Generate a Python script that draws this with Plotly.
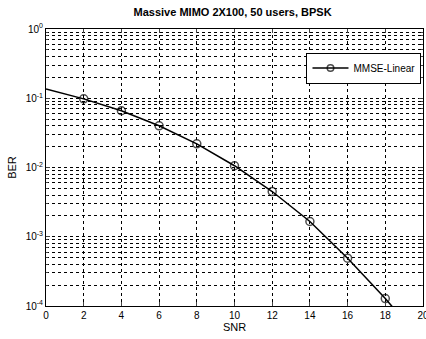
import plotly.graph_objects as go

snr = [0, 2, 4, 6, 8, 10, 12, 14, 16, 18, 20]
ber = [0.136, 0.098, 0.066, 0.040, 0.022, 0.0106, 0.0045, 0.00166, 0.00049, 0.000128, 0.00003]
marker_sizes = [0, 8, 8, 8, 8, 8, 8, 8, 8, 8, 0]
x_ticks = [0, 2, 4, 6, 8, 10, 12, 14, 16, 18, 20]
y_tickvals = [1e-4, 1e-3, 1e-2, 1e-1, 1]
y_ticktext = ["10<sup>-4</sup>", "10<sup>-3</sup>", "10<sup>-2</sup>", "10<sup>-1</sup>", "10<sup>0</sup>"]

FONT = "Liberation Sans, Arial, sans-serif"
W, H = 426, 339

fig = go.Figure()
fig.add_trace(go.Scatter(
    x=snr, y=ber, mode="lines+markers", name="MMSE-Linear",
    line=dict(color="black", width=1.5),
    marker=dict(symbol="circle-open", size=marker_sizes, color="black", line=dict(width=1.5)),
))

fig.update_layout(
    width=W, height=H,
    margin=dict(l=46, r=3, t=29, b=33, autoexpand=False),
    paper_bgcolor="white", plot_bgcolor="white",
    font=dict(family=FONT, size=10, color="black"),
    title=dict(text="<b>Massive MIMO 2X100, 50 users, BPSK</b>", x=0.495, xref="paper",
               xanchor="center", y=1 - 12.5 / H, yanchor="middle",
               font=dict(size=11, family=FONT, color="black")),
    showlegend=True,
    legend=dict(x=0.996, xanchor="right", y=0.915, yanchor="top",
                bgcolor="white", bordercolor="black", borderwidth=1,
                font=dict(size=10, family=FONT), itemwidth=36,
                tracegroupgap=0),
    xaxis=dict(range=[0, 20], tickvals=x_ticks, ticks="inside", ticklen=4,
               automargin=False, ticklabeloverflow="allow",
               showline=True, linecolor="black", linewidth=1, mirror="ticks",
               showgrid=True, gridcolor="black", griddash="dot", gridwidth=1,
               zeroline=False, title=dict(text="SNR", standoff=1, font=dict(size=11)),
               tickfont=dict(size=10)),
    yaxis=dict(type="log", range=[-4, 0], tickvals=y_tickvals, ticktext=y_ticktext,
               ticks="inside", ticklen=4, automargin=False, ticklabeloverflow="allow",
               showline=True, linecolor="black", linewidth=1, mirror="ticks",
               showgrid=True, gridcolor="black", griddash="dot", gridwidth=1,
               zeroline=False, title=dict(text="BER", standoff=6, font=dict(size=11)),
               tickfont=dict(size=10),
               minor=dict(dtick="D1", showgrid=True, gridcolor="black", griddash="dot",
                          gridwidth=1, ticks="inside", ticklen=2)),
)

fig.write_html("out.html", config={"displayModeBar": False},
               post_script="document.body.style.margin='0';")
